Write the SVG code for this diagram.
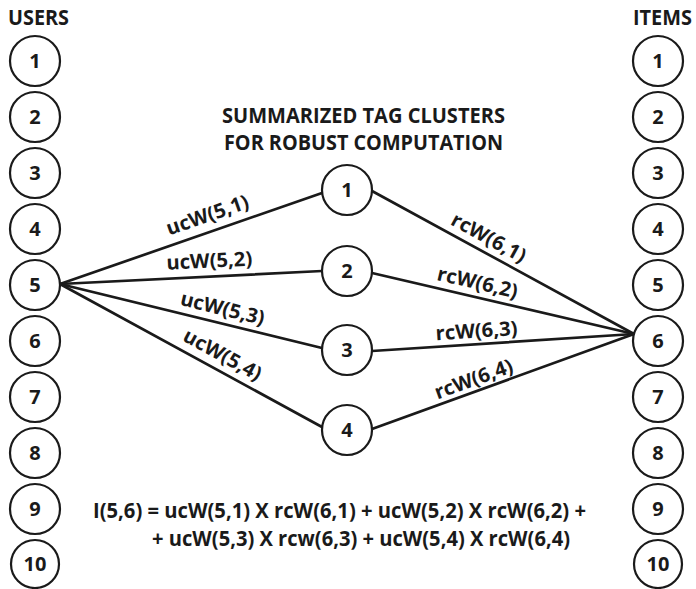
<svg xmlns="http://www.w3.org/2000/svg" width="696" height="589" viewBox="0 0 696 589">
<style>
text{font-family:"Open Sans","Noto Sans","Liberation Sans",sans-serif;font-weight:bold;fill:#1a1a1a}
.n circle{fill:#fff;stroke:#1a1a1a;stroke-width:2.2}
.n text{font-size:20px;text-anchor:middle}
.t{font-size:21px}
.f{font-size:20.5px}
.lbl{font-size:20px;text-anchor:middle}
#edges line{stroke:#1a1a1a;stroke-width:2.7;stroke-linecap:round}
</style>
<rect width="696" height="589" fill="#fff"/>
<text class="t" x="8" y="25" textLength="61" lengthAdjust="spacingAndGlyphs">USERS</text>
<text class="t" x="633" y="25" textLength="59" lengthAdjust="spacingAndGlyphs">ITEMS</text>
<text class="t" x="222" y="123" textLength="283" lengthAdjust="spacingAndGlyphs">SUMMARIZED TAG CLUSTERS</text>
<text class="t" x="224" y="150" textLength="279" lengthAdjust="spacingAndGlyphs">FOR ROBUST COMPUTATION</text>
<g id="edges">
<line x1="60" y1="284" x2="322" y2="193"/>
<line x1="60" y1="284" x2="322" y2="271"/>
<line x1="60" y1="284" x2="322" y2="348"/>
<line x1="60" y1="284" x2="322" y2="427"/>
<line x1="372" y1="191" x2="634" y2="334"/>
<line x1="372" y1="273" x2="634" y2="334"/>
<line x1="372" y1="351" x2="634" y2="334"/>
<line x1="372" y1="429" x2="634" y2="334"/>
<text class="lbl" transform="translate(209.7,221.5) rotate(-19.15)" textLength="86" lengthAdjust="spacingAndGlyphs">ucW(5,1)</text>
<text class="lbl" transform="translate(209.6,267.6) rotate(-2.84)" textLength="86" lengthAdjust="spacingAndGlyphs">ucW(5,2)</text>
<text class="lbl" transform="translate(220.9,315) rotate(13.73)" textLength="86" lengthAdjust="spacingAndGlyphs">ucW(5,3)</text>
<text class="lbl" transform="translate(219.3,360.7) rotate(28.6)" textLength="86" lengthAdjust="spacingAndGlyphs">ucW(5,4)</text>
<text class="lbl" transform="translate(485.6,243.7) rotate(28.6)" textLength="82" lengthAdjust="spacingAndGlyphs">rcW(6,1)</text>
<text class="lbl" transform="translate(476,289.2) rotate(13.1)" textLength="82" lengthAdjust="spacingAndGlyphs">rcW(6,2)</text>
<text class="lbl" transform="translate(477,337.6) rotate(-3.7)" textLength="82" lengthAdjust="spacingAndGlyphs">rcW(6,3)</text>
<text class="lbl" transform="translate(476,385.5) rotate(-19.9)" textLength="82" lengthAdjust="spacingAndGlyphs">rcW(6,4)</text>
</g>
<g class="n" id="user1"><circle cx="35" cy="61" r="25"/><text x="35" y="68">1</text></g>
<g class="n" id="user2"><circle cx="35" cy="117" r="25"/><text x="35" y="124">2</text></g>
<g class="n" id="user3"><circle cx="35" cy="173" r="25"/><text x="35" y="180">3</text></g>
<g class="n" id="user4"><circle cx="35" cy="229" r="25"/><text x="35" y="236">4</text></g>
<g class="n" id="user5"><circle cx="35" cy="285" r="25"/><text x="35" y="292">5</text></g>
<g class="n" id="user6"><circle cx="35" cy="341" r="25"/><text x="35" y="348">6</text></g>
<g class="n" id="user7"><circle cx="35" cy="397" r="25"/><text x="35" y="404">7</text></g>
<g class="n" id="user8"><circle cx="35" cy="453" r="25"/><text x="35" y="460">8</text></g>
<g class="n" id="user9"><circle cx="35" cy="509" r="25"/><text x="35" y="516">9</text></g>
<g class="n" id="user10"><circle cx="35" cy="564" r="24"/><text x="35" y="571">10</text></g>
<g class="n" id="item1"><circle cx="658" cy="61" r="25"/><text x="658" y="68">1</text></g>
<g class="n" id="item2"><circle cx="658" cy="117" r="25"/><text x="658" y="124">2</text></g>
<g class="n" id="item3"><circle cx="658" cy="173" r="25"/><text x="658" y="180">3</text></g>
<g class="n" id="item4"><circle cx="658" cy="229" r="25"/><text x="658" y="236">4</text></g>
<g class="n" id="item5"><circle cx="658" cy="285" r="25"/><text x="658" y="292">5</text></g>
<g class="n" id="item6"><circle cx="658" cy="341" r="25"/><text x="658" y="348">6</text></g>
<g class="n" id="item7"><circle cx="658" cy="397" r="25"/><text x="658" y="404">7</text></g>
<g class="n" id="item8"><circle cx="658" cy="453" r="25"/><text x="658" y="460">8</text></g>
<g class="n" id="item9"><circle cx="658" cy="509" r="25"/><text x="658" y="516">9</text></g>
<g class="n" id="item10"><circle cx="658" cy="564" r="24"/><text x="658" y="571">10</text></g>
<g class="n" id="cluster1"><circle cx="347" cy="190" r="25"/><text x="347" y="197">1</text></g>
<g class="n" id="cluster2"><circle cx="347" cy="271" r="25"/><text x="347" y="278">2</text></g>
<g class="n" id="cluster3"><circle cx="347" cy="350" r="25"/><text x="347" y="357">3</text></g>
<g class="n" id="cluster4"><circle cx="347" cy="430" r="25"/><text x="347" y="437">4</text></g>
<text class="f" x="93" y="518" textLength="493" lengthAdjust="spacingAndGlyphs">I(5,6) = ucW(5,1) X rcW(6,1) + ucW(5,2) X rcW(6,2) +</text>
<text class="f" x="152" y="546" textLength="418" lengthAdjust="spacingAndGlyphs">+ ucW(5,3) X rcw(6,3) + ucW(5,4) X rcW(6,4)</text>
</svg>
